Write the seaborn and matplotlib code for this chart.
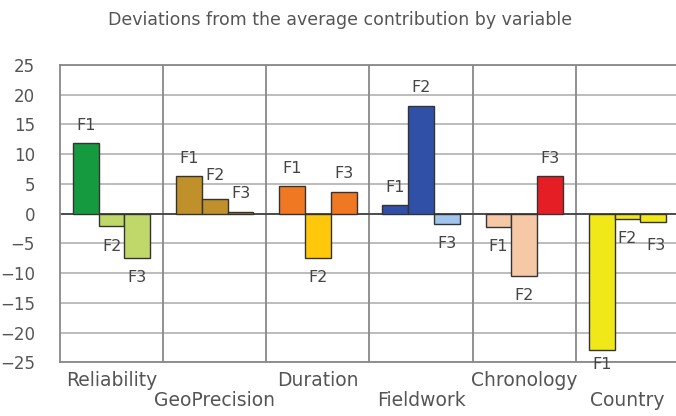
# deviations from average contribution - grouped bars per variable
import numpy as np
import pandas as pd
import matplotlib
matplotlib.use('Agg')
import matplotlib.pyplot as plt
import seaborn as sns

# ------- data -------
variables = ['Reliability', 'GeoPrecision', 'Duration', 'Fieldwork', 'Chronology', 'Country']
factors = ['F1', 'F2', 'F3']
f1_vals = [11.8, 6.3, 4.6, 1.4, -2.3, -23.0]
f2_vals = [-2.1, 2.4, -7.5, 18.1, -10.5, -0.9]
f3_vals = [-7.5, 0.3, 3.7, -1.7, 6.3, -1.4]

# one colour per bar (variable x factor)
bar_colors = {
    'Reliability':  ['#169a40', '#c0d86a', '#c0d86a'],
    'GeoPrecision': ['#c0902a', '#c0902a', '#a87e22'],
    'Duration':     ['#f07822', '#ffc80a', '#f07822'],
    'Fieldwork':    ['#3050a8', '#3050a8', '#a0c4ec'],
    'Chronology':   ['#f7c8a5', '#f7c8a5', '#e41e24'],
    'Country':      ['#f0e818', '#f0e818', '#f0e818'],
}

df = pd.DataFrame({
    'variable': variables * 3,
    'factor': ['F1'] * 6 + ['F2'] * 6 + ['F3'] * 6,
    'value': f1_vals + f2_vals + f3_vals,
})

# label nudges (points) where the reference moves a label
label_nudge = {('Country', 0): (0, -10), ('GeoPrecision', 1): (0, 17),
               ('Country', 2): (2, -17), ('Reliability', 1): (0, -15)}

# ------- plot -------
sns.set_style('white')
plt.rcParams['font.family'] = ['DejaVu Sans']

fig = plt.figure(figsize=(6.76, 4.16), dpi=100)
ax = fig.add_axes([60 / 676, (416 - 362.3) / 416, 619 / 676, (362.3 - 65) / 416])

sns.barplot(data=df, x='variable', y='value', hue='factor', order=variables,
            hue_order=factors, width=0.75, dodge=True, ax=ax, legend=False,
            edgecolor='#333333', linewidth=1.0, saturation=1)

for j, cont in enumerate(ax.containers):
    for i, bar in enumerate(cont):
        bar.set_facecolor(bar_colors[variables[i]][j])
        bar.set_zorder(3)
        h = bar.get_height()
        xc = bar.get_x() + bar.get_width() / 2
        off = (0, 13) if h >= 0 else (0, -14)
        off = label_nudge.get((variables[i], j), off)
        ax.annotate(factors[j], (xc, h), xytext=off, textcoords='offset points',
                    ha='center', va='center', fontsize=11.5, color='#444444', zorder=4)

ax.set_ylim(-25, 25)
ax.set_xlim(-0.5, 5.5)
ax.set_yticks(np.arange(-25, 26, 5))
ax.yaxis.grid(True, color='#b0b0b0', linewidth=1.2, zorder=0)
ax.set_axisbelow(True)
for k in range(6):
    ax.axvline(k + 0.5, color='#888888', linewidth=1.3, zorder=1)
ax.axhline(0, color='#444444', linewidth=1.3, zorder=2)

for side in ['left', 'bottom', 'top', 'right']:
    ax.spines[side].set_color('#888888')
    ax.spines[side].set_linewidth(1.3)

ax.set_xlabel('')
ax.set_ylabel('')
ax.set_xticks(range(len(variables)))
ax.set_xticklabels([v if i % 2 == 0 else '\n' + v for i, v in enumerate(variables)],
                   fontsize=13.5, color='#555555', linespacing=1.1)
ax.tick_params(axis='x', length=0, pad=6)
ax.tick_params(axis='y', length=0, pad=18, labelsize=12, labelcolor='#555555')

fig.text(0.503, 1 - 20 / 416, 'Deviations from the average contribution by variable',
         ha='center', va='center', fontsize=12.5, color='#555555')

plt.savefig('out.png', dpi=100)
